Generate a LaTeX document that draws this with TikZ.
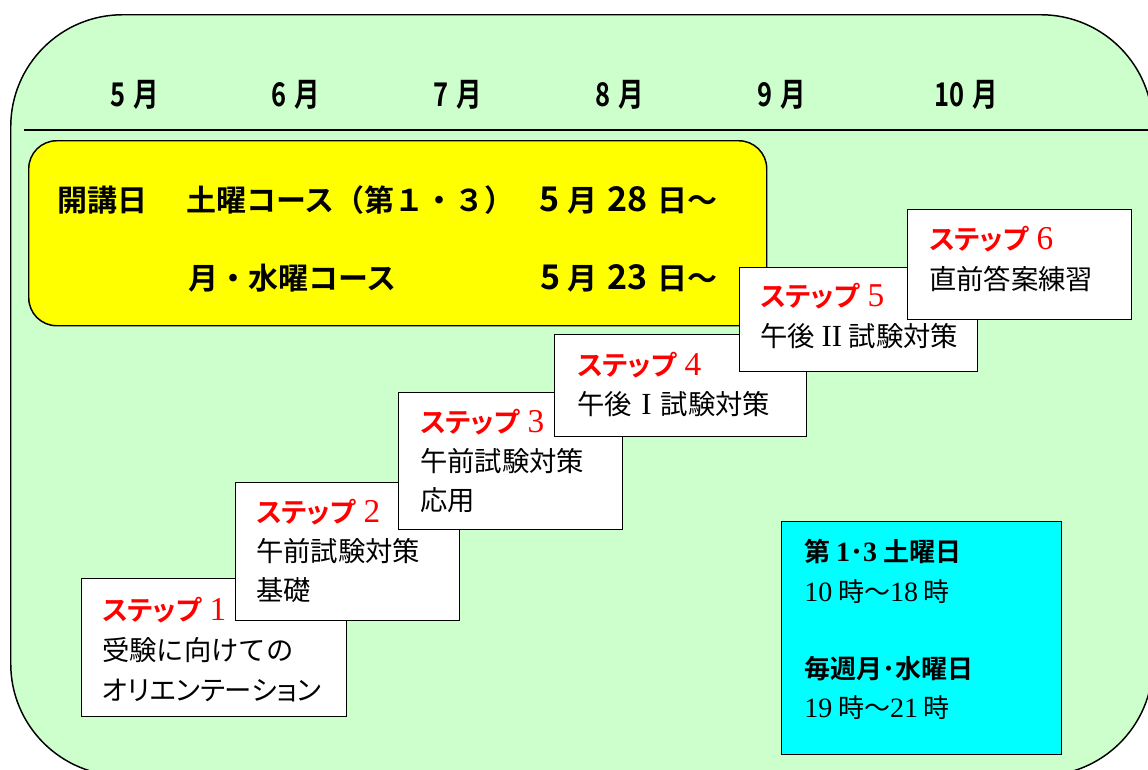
\documentclass[tikz,border=0pt]{standalone}
\usepackage{fontspec}
\setmainfont{Noto Sans CJK JP}
\newfontfamily\jp{Noto Sans CJK JP}
\newfontfamily\jpp{Noto Sans CJK JP}[RawFeature=+palt]
\newfontfamily\jpb{Noto Sans CJK JP Bold}
\newfontfamily\jpbp{Noto Sans CJK JP Bold}[RawFeature=+palt]
\newfontfamily\jpbc{Noto Sans CJK JP Bold}[FakeStretch=0.78]
\newfontfamily\ser{Liberation Serif}
\newcommand\fs[1]{\fontsize{#1}{#1}\selectfont}
\newcommand\stepnum[1]{\hspace{6pt}{\ser\fs{25pt}#1}}
\definecolor{bggreen}{HTML}{CCFFCC}
\definecolor{ylw}{HTML}{FFFF00}
\definecolor{cyn}{HTML}{00FFFF}
\definecolor{stepred}{HTML}{FF0000}
\begin{document}
\begin{tikzpicture}[x=0.75pt,y=-0.75pt,
  boxw/.style 2 args={draw, line width=1.1pt, minimum width=#1*0.75pt, minimum height=#2*0.75pt, anchor=north west, inner sep=0},
  stepbox/.style 2 args={boxw={#1}{#2}, fill=white},
  txt/.style={anchor=base west, inner sep=0},
  month/.style={txt, font=\jpbc\fs{24.5pt}},
  ytext/.style={txt, font=\jpb\fs{22.5pt}},
  ydigit/.style={txt, font=\jpb\fs{25.5pt}},
  steptitle/.style={txt, text=stepred, font=\jpbp\fs{20.5pt}},
  stepbody/.style={txt, font=\jp\fs{20.5pt}},
  cbold/.style={txt, font=\jpb\fs{19.5pt}},
  cnorm/.style={txt, font=\jp\fs{19.5pt}}
]
\useasboundingbox (0,0) rectangle (1148,769);
% background frame
\node[boxw={1142}{761}, fill=bggreen, rounded corners=84pt, line width=1.1pt] (frame) at (10,14) {};
\coordinate (l1) at (24,130);
\coordinate (l2) at (1152,130);
\draw[line width=1pt] (l1) -- (l2);
% months
\node[month] (m5) at (110,106) {5\hspace{6pt}月};
\node[month] (m6) at (271,106) {6\hspace{6pt}月};
\node[month] (m7) at (433,106) {7\hspace{6pt}月};
\node[month] (m8) at (595,106) {8\hspace{6pt}月};
\node[month] (m9) at (757,106) {9\hspace{6pt}月};
\node[month] (m10) at (934,106) {10\hspace{6pt}月};
% yellow box
\node[boxw={738}{185}, fill=ylw, rounded corners=21pt] (yb) at (28,140) {};
\node[ytext] (y1a) at (57,211) {開講日};
\node[ytext] (y1b) at (186,211) {土曜コース（第１・３）};
\node[ydigit] (y1c) at (539,211) {5};
\node[ytext] (y1m) at (567,211) {月};
\node[ydigit] (y1d) at (607,211) {28};
\node[ytext] (y1e) at (657,211) {日～};
\node[ytext] (y2a) at (188,289) {月・水曜コース};
\node[ydigit] (y2c) at (540,289) {5};
\node[ytext] (y2m) at (567,289) {月};
\node[ydigit] (y2d) at (607,289) {23};
\node[ytext] (y2e) at (657,289) {日～};
% step 1
\node[stepbox={265}{138}] (s1) at (81,578) {};
\node[steptitle] (s1t) at (102,620) {ステップ\stepnum{1}};
\node[stepbody] (s1a) at (102,660) {受験に向けての};
\node[stepbody, font=\jpp\fs{20.5pt}] (s1b) at (102,700) {オリエンテーション};
% step 2
\node[stepbox={224}{138}] (s2) at (235,482) {};
\node[steptitle] (s2t) at (256,522) {ステップ\stepnum{2}};
\node[stepbody] (s2a) at (256,561) {午前試験対策};
\node[stepbody] (s2b) at (256,600) {基礎};
% step 3
\node[stepbox={224}{137}] (s3) at (398,392) {};
\node[steptitle] (s3t) at (420,432) {ステップ\stepnum{3}};
\node[stepbody] (s3a) at (420,471) {午前試験対策};
\node[stepbody] (s3b) at (420,510) {応用};
% step 4
\node[stepbox={252}{102}] (s4) at (554,334) {};
\node[steptitle] (s4t) at (577,375) {ステップ\stepnum{4}};
\node[stepbody] (s4a) at (577,414) {午後\hspace{7pt}{\ser\fs{23pt}I}\hspace{7pt}試験対策};
% step 5
\node[stepbox={238}{104}] (s5) at (739,267) {};
\node[steptitle] (s5t) at (760,306) {ステップ\stepnum{5}};
\node[stepbody] (s5a) at (760,346) {午後\hspace{5pt}{\ser\fs{23pt}II}\hspace{5pt}試験対策};
% step 6
\node[stepbox={224}{110}] (s6) at (907,209) {};
\node[steptitle] (s6t) at (929,249) {ステップ\stepnum{6}};
\node[stepbody] (s6a) at (929,289) {直前答案練習};
% cyan box
\node[boxw={280}{233}, fill=cyn] (cb) at (781,521) {};
\node[cbold] (c1) at (804,561) {第 {\ser\bfseries\fs{21pt}1}･{\ser\bfseries\fs{21pt}3} 土曜日};
\node[cnorm] (c2) at (804,601) {{\ser\fs{21pt}10} 時～{\ser\fs{21pt}18} 時};
\node[cbold] (c3) at (804,678) {毎週月･水曜日};
\node[cnorm] (c4) at (804,717) {{\ser\fs{21pt}19} 時～{\ser\fs{21pt}21} 時};
\end{tikzpicture}
\end{document}
